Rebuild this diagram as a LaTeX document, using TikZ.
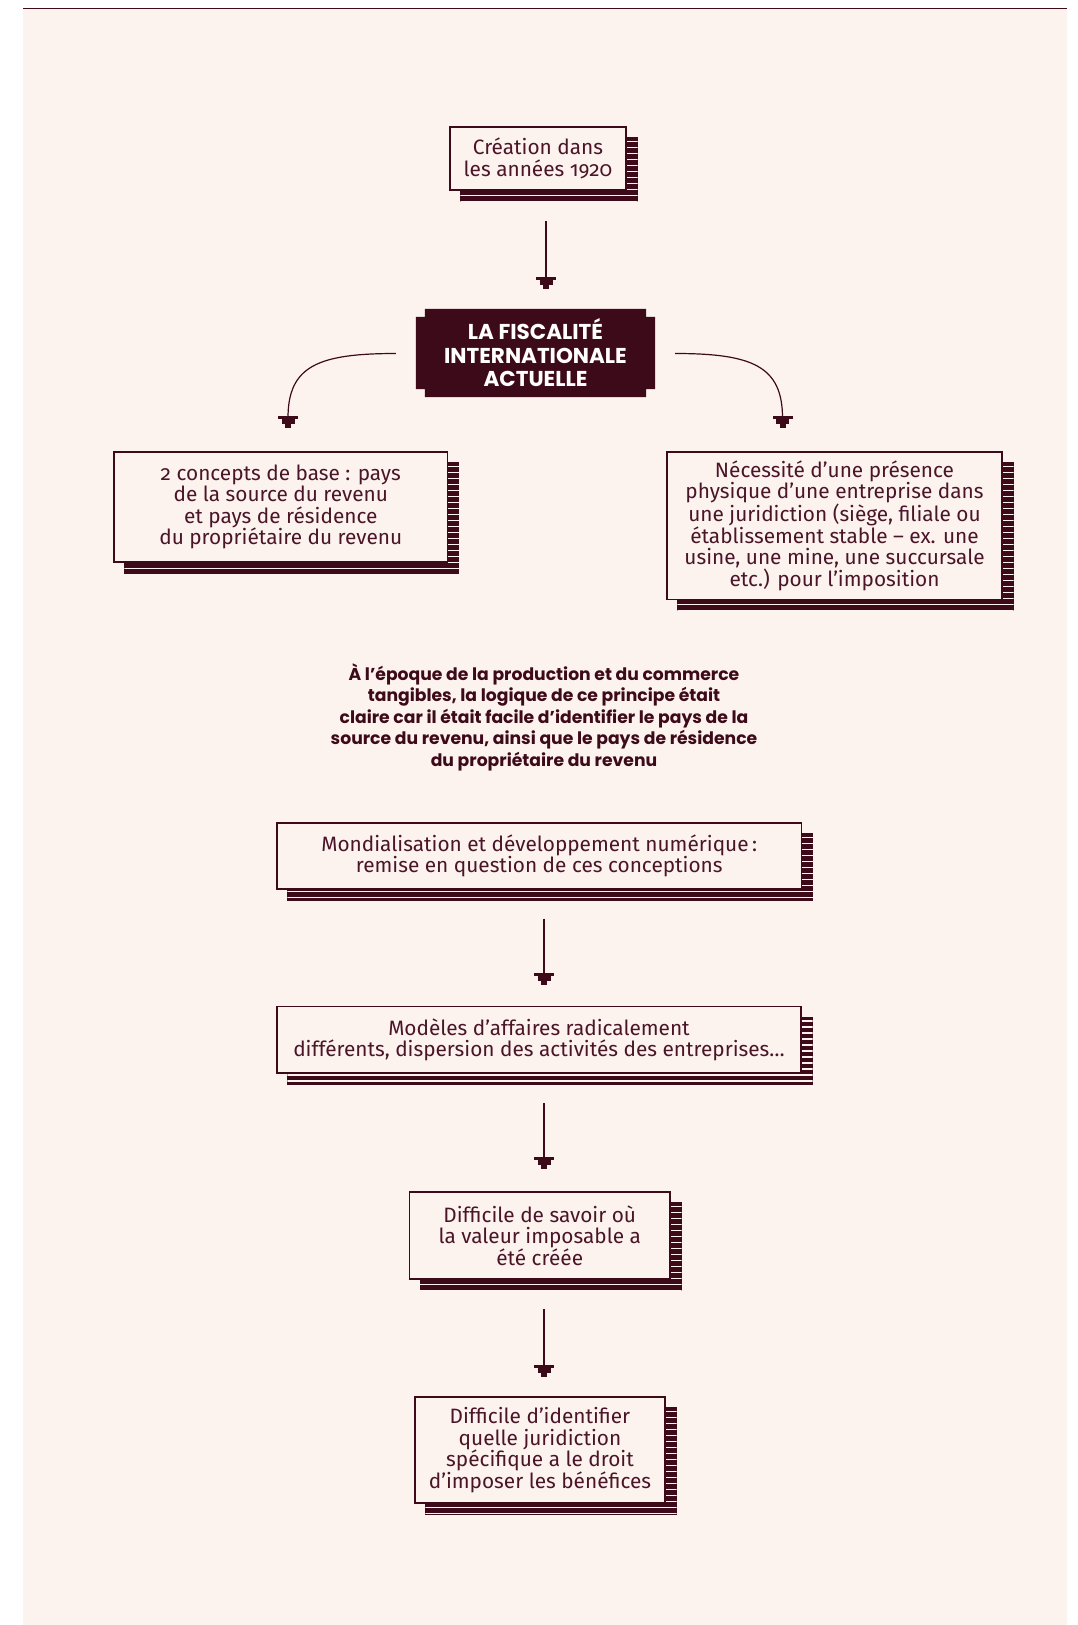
\documentclass[tikz,border=0pt]{standalone}
\usepackage{fontspec}
\setmainfont{Fira Sans}[Numbers=OldStyle]
\newfontfamily\popp{Poppins}
\usetikzlibrary{calc}
\definecolor{bgc}{HTML}{FDF3EE}
\definecolor{dark}{HTML}{3D0A19}
\definecolor{ink}{HTML}{4A1528}
\pgfdeclarelayer{panel}
\pgfdeclarelayer{shadow}
\pgfsetlayers{panel,shadow,main}
\tikzset{
  box/.style={draw=dark, line width=1.2, fill=bgc, text=ink, align=center, inner sep=0pt,
    font=\fontsize{20.8}{21.5}\selectfont},
  shadowfill/.style={fill=dark, path picture={
    \foreach \yy in {4,10,...,200} {
      \draw[bgc, line width=1.3] ([yshift=-\yy pt]path picture bounding box.north west) --
        ([yshift=-\yy pt]path picture bounding box.north east);
    }}},
  conn/.style={dark, line width=1.2},
  stephead/.pic={
    \fill[dark] (-10,-12) rectangle (10,-8.6);
    \fill[dark] (-6.5,-8.6) rectangle (6.5,-3.6);
    \fill[dark] (-3,-3.6) rectangle (3,0);
  }
}
\begin{document}
\begin{tikzpicture}[x=1pt,y=-1pt]
\useasboundingbox (0,0) rectangle (1077,1625);
\begin{pgfonlayer}{panel}
  \fill[bgc] (23,9) rectangle (1067,1625);
  \draw[dark, line width=1.4] (23,8.6) -- (1067,8.6);
\end{pgfonlayer}

% boxes
\node[box, minimum width=176, minimum height=63] (b1) at (538,158.5)
  {Création dans\\les années 1920};
\node[minimum width=239, minimum height=88, inner sep=0pt, text=white, align=center,
  font=\popp\bfseries\fontsize{21.5}{23.5}\selectfont] (t) at (535.5,353)
  {LA FISCALITÉ\\INTERNATIONALE\\ACTUELLE};
\node[box, minimum width=333.5, minimum height=110] (b2) at (280.75,507)
  {2 concepts de base : pays\\de la source du revenu\\et pays de résidence\\du propriétaire du revenu};
\node[box, minimum width=335, minimum height=147.5] (b3) at (834.5,525.75)
  {Nécessité d’une présence\\physique d’une entreprise dans\\une juridiction (siège, filiale ou\\établissement stable – ex. une\\usine, une mine, une succursale\\etc.) pour l’imposition};
\node[text=dark, align=center, font=\popp\bfseries\fontsize{17.2}{21.5}\selectfont] (note) at (544,717)
  {À l’époque de la production et du commerce\\tangibles, la logique de ce principe était\\claire car il était facile d’identifier le pays de la\\source du revenu, ainsi que le pays de résidence\\du propriétaire du revenu};
\node[box, minimum width=524.5, minimum height=66] (b4) at (539.25,856)
  {Mondialisation et développement numérique\,:\\remise en question de ces conceptions};
\node[box, minimum width=524, minimum height=66.5] (b5) at (539,1039.75)
  {Modèles d’affaires radicalement\\différents, dispersion des activités des entreprises…};
\node[box, minimum width=260.5, minimum height=87] (b6) at (539.75,1235.5)
  {Difficile de savoir où\\la valeur imposable a\\été créée};
\node[box, minimum width=250, minimum height=106] (b7) at (540,1450)
  {Difficile d’identifier\\quelle juridiction\\spécifique a le droit\\d’imposer les bénéfices};

% shadows and title plate
\begin{pgfonlayer}{shadow}
  \foreach \n in {b1,b2,b3,b4,b5,b6,b7}
    \path[shadowfill] ([shift={(11,11)}]\n.north west) rectangle ([shift={(11,11)}]\n.south east);
  \fill[dark] ($(t.north west)+(9,0)$) -- ($(t.north east)+(-9,0)$) -- ($(t.north east)+(-9,8)$)
    -- ($(t.north east)+(0,8)$) -- ($(t.south east)+(0,-8)$) -- ($(t.south east)+(-9,-8)$)
    -- ($(t.south east)+(-9,0)$) -- ($(t.south west)+(9,0)$) -- ($(t.south west)+(9,-8)$)
    -- ($(t.south west)+(0,-8)$) -- ($(t.north west)+(0,8)$) -- ($(t.north west)+(9,8)$) -- cycle;
\end{pgfonlayer}

% connectors
\coordinate (a1s) at (546,221);   \coordinate (a1e) at (546,289);
\coordinate (a2s) at (544,918.5); \coordinate (a2e) at (544,985);
\coordinate (a3s) at (544,1103);  \coordinate (a3e) at (544,1169);
\coordinate (a4s) at (544,1309);  \coordinate (a4e) at (544,1376.5);
\foreach \a in {a1,a2,a3,a4} {
  \draw[conn] (\a s) -- ([yshift=4pt]\a e);
  \pic at (\a e) {stephead};
}
\coordinate (cl0) at ($(t.west)+(-20,0.5)$); \coordinate (cl1) at (288,428);
\coordinate (cr0) at ($(t.east)+(20,0.5)$);  \coordinate (cr1) at (782.5,428);
\draw[conn] (cl0) .. controls (318,353.5) and (288,366) .. ([yshift=10pt]cl1);
\draw[conn] (cr0) .. controls (752,353.5) and (782.5,366) .. ([yshift=10pt]cr1);
\pic at (cl1) {stephead};
\pic at (cr1) {stephead};
\end{tikzpicture}
\end{document}
